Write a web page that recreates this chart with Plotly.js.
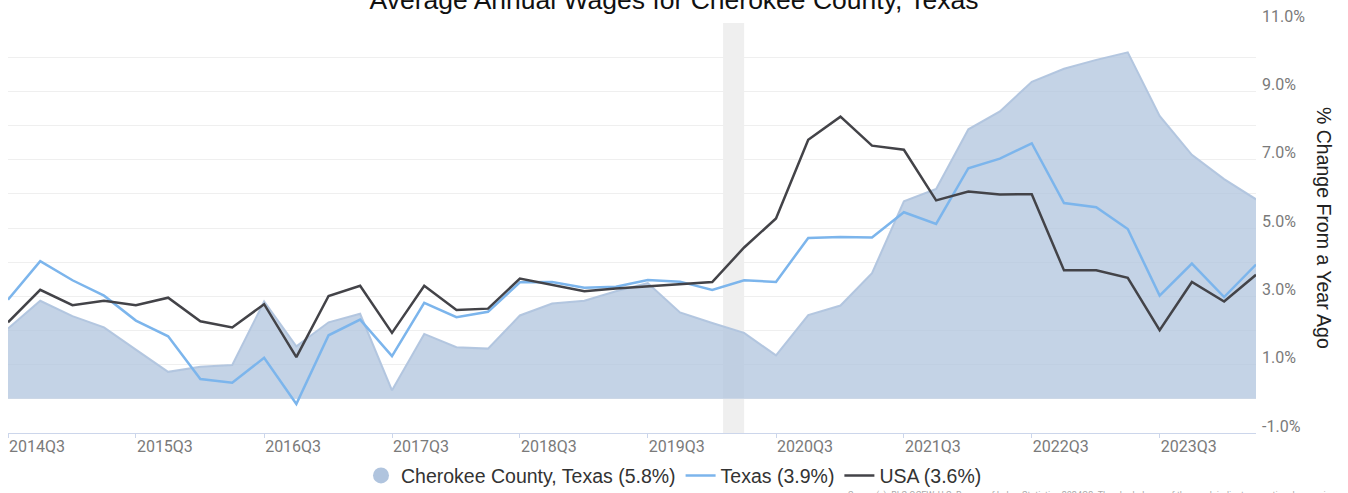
<!DOCTYPE html>
<html>
<head>
<meta charset="utf-8">
<script src="https://cdn.plot.ly/plotly-3.0.1.min.js"></script>
<style>
  html, body { margin: 0; padding: 0; background: #fff; }
  #chart { width: 1348px; height: 493px; }
</style>
</head>
<body>
<div id="chart"></div>
<script>
// ---- Data ----
const quarters = [
  "2014Q3","2014Q4","2015Q1","2015Q2","2015Q3","2015Q4","2016Q1","2016Q2",
  "2016Q3","2016Q4","2017Q1","2017Q2","2017Q3","2017Q4","2018Q1","2018Q2",
  "2018Q3","2018Q4","2019Q1","2019Q2","2019Q3","2019Q4","2020Q1","2020Q2",
  "2020Q3","2020Q4","2021Q1","2021Q2","2021Q3","2021Q4","2022Q1","2022Q2",
  "2022Q3","2022Q4","2023Q1","2023Q2","2023Q3","2023Q4","2024Q1","2024Q2"
];
const cherokee = [2.06,2.87,2.42,2.09,1.44,0.79,0.94,0.99,2.85,1.54,
                  2.24,2.49,0.25,1.90,1.51,1.47,2.44,2.79,2.87,3.15,
                  3.39,2.53,2.22,1.93,1.27,2.45,2.73,3.68,5.78,6.14,
                  7.89,8.41,9.28,9.66,9.92,10.14,8.28,7.14,6.43,5.84];
const texas =    [2.90,4.03,3.47,3.02,2.29,1.83,0.58,0.47,1.20,-0.15,
                  1.86,2.32,1.25,2.81,2.39,2.55,3.41,3.42,3.25,3.28,
                  3.48,3.43,3.19,3.47,3.42,4.71,4.74,4.72,5.46,5.12,
                  6.75,7.03,7.48,5.73,5.61,4.97,3.02,3.96,2.98,3.93];
const usa =      [2.24,3.19,2.74,2.87,2.74,2.96,2.27,2.09,2.77,1.22,
                  3.01,3.31,1.93,3.31,2.60,2.64,3.52,3.34,3.15,3.23,
                  3.29,3.37,3.42,4.43,5.28,7.58,8.26,7.41,7.29,5.81,
                  6.07,5.98,5.99,3.76,3.76,3.54,2.01,3.42,2.85,3.63];
const seriesNames = ["Cherokee County, Texas", "Texas", "USA"];
const yTickVals = [-1, 1, 3, 5, 7, 9, 11];
const recessions = [["2020-02-01", "2020-04-01"]];
const titleText = "Average Annual Wages for Cherokee County, Texas";
const yTitleText = "% Change From a Year Ago";
const sourceText = "Source(s): BLS QCEW, U.S. Bureau of Labor Statistics 2024Q2. The shaded area of the graph indicates a national recession.";

// ---- Helpers ----
function qToDate(q) {
  const y = q.slice(0, 4);
  const n = parseInt(q.slice(5), 10);
  const m = String((n - 1) * 3 + 1).padStart(2, "0");
  return y + "-" + m + "-01";
}
const dates = quarters.map(qToDate);
const tickQ = quarters.filter(q => q.endsWith("Q3"));
const last = a => a[a.length - 1];
const lbl = (name, arr) => name + " (" + last(arr).toFixed(1) + "%)";

const areaFill = "rgba(176,196,222,0.75)";
const areaLine = "rgba(176,196,222,0.95)";

const traces = [
  {
    x: dates, y: cherokee, type: "scatter", mode: "lines",
    fill: "tozeroy", fillcolor: areaFill,
    line: { color: areaLine, width: 2 },
    name: lbl(seriesNames[0], cherokee), showlegend: false
  },
  {
    x: [null], y: [null], type: "scatter", mode: "markers",
    marker: { symbol: "circle", size: 20, color: "#b0c4de" },
    name: lbl(seriesNames[0], cherokee), showlegend: true, hoverinfo: "skip"
  },
  {
    x: dates, y: texas, type: "scatter", mode: "lines",
    line: { color: "#7cb5ec", width: 2.5 },
    name: lbl(seriesNames[1], texas)
  },
  {
    x: dates, y: usa, type: "scatter", mode: "lines",
    line: { color: "#434348", width: 2.5 },
    name: lbl(seriesNames[2], usa)
  }
];

const layout = {
  width: 1348, height: 493,
  margin: { l: 8, r: 92, t: 23, b: 59.5, autoexpand: false },
  paper_bgcolor: "#fff", plot_bgcolor: "#fff",
  title: {
    text: titleText,
    font: { family: "Liberation Sans, Arial, sans-serif", size: 26.5, color: "#111" },
    x: 0.5, xref: "container", xanchor: "center",
    y: 1, yref: "container", yanchor: "middle"
  },
  xaxis: {
    type: "date",
    range: [dates[0], last(dates)],
    tickvals: tickQ.map(qToDate),
    ticktext: tickQ,
    showgrid: false, zeroline: false,
    showline: true, linecolor: "#ccd6eb", linewidth: 1,
    ticks: "outside", ticklen: 4, tickcolor: "#ccd6eb", tickwidth: 1,
    ticklabelshift: 29, ticklabelstandoff: -5,
    tickfont: { family: "Roboto, sans-serif", size: 16, color: "#7a7a7a" }
  },
  yaxis: {
    side: "right",
    range: [-1, 11],
    tickvals: yTickVals,
    ticktext: yTickVals.map(v => v.toFixed(1) + "%"),
    showgrid: true, gridcolor: "#efefef", gridwidth: 1,
    minor: { tick0: 0, dtick: 1, showgrid: true, gridcolor: "#efefef", gridwidth: 1, ticks: "" },
    zeroline: false, showline: false, ticks: "",
    ticklabelshift: -7, ticklabelstandoff: 5,
    tickfont: { family: "Roboto, sans-serif", size: 16, color: "#7a7a7a" }
  },
  shapes: recessions.map(r => ({
    type: "rect", xref: "x", yref: "paper",
    x0: r[0], x1: r[1], y0: 0, y1: 1,
    fillcolor: "#efefef", line: { width: 0 }, layer: "below"
  })),
  legend: {
    orientation: "h",
    xref: "container", yref: "container",
    x: 0.5, xanchor: "center", y: 0.035, yanchor: "middle",
    font: { family: "Liberation Sans, Arial, sans-serif", size: 19.5, color: "#333" },
    bgcolor: "rgba(0,0,0,0)", itemclick: false, itemdoubleclick: false
  },
  annotations: [
    {
      text: yTitleText, textangle: 90,
      xref: "paper", yref: "paper", x: 1.0545, y: 0.5,
      xanchor: "center", yanchor: "middle", showarrow: false,
      font: { family: "Liberation Sans, Arial, sans-serif", size: 19.5, color: "#222" }
    },
    {
      text: sourceText,
      xref: "paper", yref: "paper", x: 1.0673, y: -0.152,
      xanchor: "right", yanchor: "middle", showarrow: false,
      font: { family: "Roboto, sans-serif", size: 9, color: "#aaa" }
    }
  ],
  showlegend: true,
  hovermode: "x"
};

Plotly.newPlot("chart", traces, layout, { displayModeBar: false });
</script>
</body>
</html>
